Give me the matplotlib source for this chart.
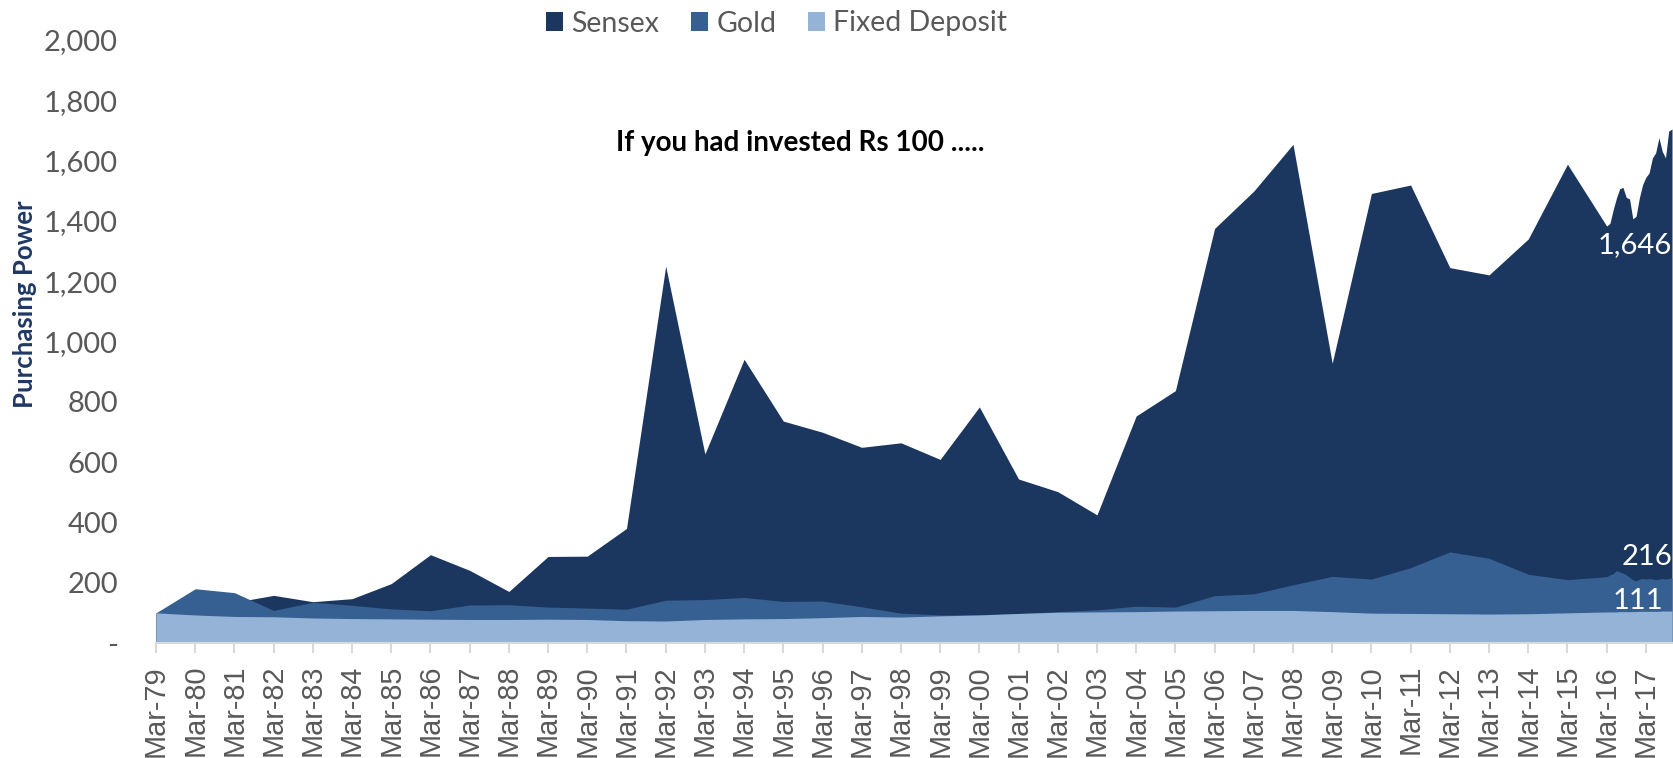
import matplotlib
matplotlib.use("Agg")
import matplotlib.pyplot as plt
from matplotlib.patches import Patch
from matplotlib.ticker import FuncFormatter, FixedLocator
import numpy as np
import pandas as pd

# ---------------- data ----------------
annual_labels = ["Mar-%02d" % (y % 100) for y in range(1979, 2017)]
monthly_labels = ["Apr-16", "May-16", "Jun-16", "Jul-16", "Aug-16", "Sep-16", "Oct-16",
                  "Nov-16", "Dec-16", "Jan-17", "Feb-17", "Mar-17", "Apr-17", "May-17",
                  "Jun-17", "Jul-17", "Aug-17", "Sep-17", "Oct-17", "Nov-17"]

sensex_annual = [100, 120, 135, 158, 137, 147, 197, 293, 241, 171, 287, 288, 380,
                 1250, 627, 941, 736, 699, 649, 664, 609, 783, 544, 502, 425,
                 753, 837, 1375, 1499, 1654, 928, 1491, 1519, 1245, 1221, 1340, 1588, 1383]
sensex_monthly = [1392, 1437, 1476, 1507, 1511, 1478, 1473, 1407, 1415, 1476, 1520,
                  1545, 1559, 1609, 1626, 1676, 1631, 1609, 1698, 1705]

gold_annual = [100, 180, 167, 108, 135, 125, 113, 107, 126, 127, 119, 116, 112,
               142, 144, 151, 138, 139, 120, 99, 93, 94, 98, 104, 110,
               122, 119, 157, 163, 193, 221, 212, 250, 302, 281, 228, 210, 220]
gold_monthly = [226, 230, 240, 236, 232, 226, 218, 210, 206, 212, 214, 212, 214,
                212, 210, 212, 214, 212, 214, 216]

fd_annual = [100, 93, 88, 87, 83, 81, 80, 79, 78, 78, 79, 78, 74,
             73, 78, 80, 81, 84, 88, 86, 90, 93, 98, 102, 103,
             104, 106, 107, 108, 108, 104, 99, 98, 97, 96, 97, 100, 103]
fd_monthly = [103, 103, 103, 104, 104, 104, 104, 104, 104, 105, 105, 105, 105,
              105, 105, 105, 106, 106, 106, 106]

tick_labels = ["Mar-%02d" % (y % 100) for y in range(1979, 2018)]
y_ticks = [0, 200, 400, 600, 800, 1000, 1200, 1400, 1600, 1800, 2000]
end_labels = ["1,646", "216", "111"]

series_names = ["Sensex", "Gold", "Fixed Deposit"]
colors = ["#1b375f", "#366092", "#95b3d7"]

# ---------------- positions (fractional years since Mar-79) ----------------
dates = pd.to_datetime(annual_labels + monthly_labels, format="%b-%y")
base = pd.Timestamp("1979-03-01")
x = np.array([(d.year - base.year) + (d.month - base.month) / 12.0 for d in dates])
tdates = pd.to_datetime(tick_labels, format="%b-%y")
tx = [(d.year - base.year) + (d.month - base.month) / 12.0 for d in tdates]

sensex = np.array(sensex_annual + sensex_monthly)
gold = np.array(gold_annual + gold_monthly)
fd = np.array(fd_annual + fd_monthly)

# ---------------- figure ----------------
W, H = 1674, 758
PX = 72 / 100  # points per pixel
fig = plt.figure(figsize=(W / 100, H / 100), dpi=100)
left = 156 / W
bottom = 1 - 643 / H
top = 1 - 40 / H
ax = fig.add_axes([left, bottom, 1 - left, top - bottom])

for vals, c in zip([sensex, gold, fd], colors):
    ax.fill_between(x, 0, vals, color=c, linewidth=0)

xr = x[-1] + (W - 1672) / 39.2
ax.set_xlim(0, xr)
ax.set_ylim(0, 2000)

for s in ["top", "right", "left"]:
    ax.spines[s].set_visible(False)
ax.spines["bottom"].set_color("#d9d9d9")
ax.spines["bottom"].set_linewidth(1.5)
ax.spines["bottom"].set_zorder(5)

ax.xaxis.set_major_locator(FixedLocator(tx))
ax.set_xticklabels(tick_labels, rotation=90, fontfamily=["Liberation Sans", "DejaVu Sans"],
                   fontsize=20.8, color="#595959", va="top", ha="center")
ax.tick_params(axis="x", length=10 * PX, width=1.5, color="#d9d9d9", pad=12 * PX)

ax.set_yticks(y_ticks)
ax.yaxis.set_major_formatter(FuncFormatter(lambda v, p: "-" if v == 0 else f"{int(v):,}"))
ax.tick_params(axis="y", length=0, pad=38 * PX)
for lab in ax.get_yticklabels():
    lab.set_fontfamily("Lato")
    lab.set_fontsize(21)
    lab.set_color("#595959")

# end-of-series labels
lab_y = [1320, 285, 138]
lab_x = [x[-1], x[-1], x[-1] - 9 / 39.2]
for t, yy, xx in zip(end_labels, lab_y, lab_x):
    ax.text(xx, yy, t, ha="right", va="center", color="white",
            fontfamily="Lato", fontsize=21, zorder=6)

# title
fig.text(800.5 / W, 1 - 143 / H, "If you had invested Rs 100 .....",
         ha="center", va="center", fontfamily="Lato", fontweight="bold",
         fontsize=20, color="black")

# y label
fig.text(24.7 / W, 1 - 304.5 / H, "Purchasing Power", rotation=90,
         ha="center", va="center", fontfamily="Lato", fontweight="bold",
         fontsize=18.5, color="#1f3864")

# legend
handles = [Patch(facecolor=c, edgecolor="none", label=n) for c, n in zip(colors, series_names)]
leg = fig.legend(handles=handles, loc="center", bbox_to_anchor=(776.5 / W, 1 - 23.5 / H),
                 ncol=3, frameon=False, handlelength=0.62, handleheight=0.62,
                 handletextpad=0.28, columnspacing=1.1, borderpad=0, borderaxespad=0,
                 prop={"family": "Lato", "size": 20.5})
for t in leg.get_texts():
    t.set_color("#595959")

fig.savefig("out.png", dpi=100)
